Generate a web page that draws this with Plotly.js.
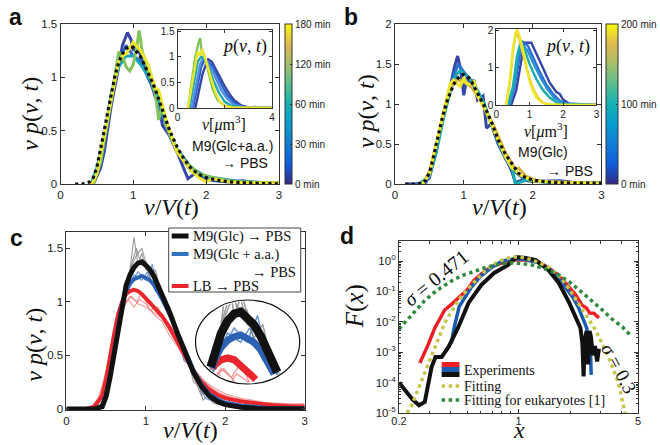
<!DOCTYPE html>
<html><head><meta charset="utf-8">
<script src="https://cdn.plot.ly/plotly-3.0.1.min.js"></script>
<style>html,body{margin:0;padding:0;background:#fff}#chart{width:660px;height:445px}</style>
</head><body><div id="chart"></div>
<script>
// ---------- Panel a : M9(Glc+a.a.) -> PBS, v p(v,t) vs v/V(t) ----------
const aFitX = [0.2,0.3,0.4,0.45,0.5,0.55,0.6,0.65,0.7,0.75,0.8,0.85,0.9,0.95,1.0,1.05,1.1,1.15,1.2,1.25,1.3,1.4,1.5,1.6,1.7,1.8,1.9,2.0,2.2,2.4,2.6,2.8,3.0];
const aFitY = [0,0,0.02,0.06,0.16,0.32,0.5,0.68,0.86,1.02,1.14,1.22,1.27,1.29,1.28,1.24,1.19,1.12,1.05,0.97,0.89,0.7,0.5,0.35,0.23,0.14,0.09,0.06,0.03,0.015,0.008,0.004,0.002];
const aT0X = [0.45,0.55,0.6,0.7,0.8,0.85,0.92,0.97,1.0,1.05,1.1,1.2,1.3,1.35,1.4,1.5,1.6,1.75,1.85,2.0,2.3,2.5,2.7,3.0];
const aT0Y = [0,0.15,0.3,0.75,1.1,1.3,1.42,1.35,1.25,1.3,1.2,1.05,0.82,0.75,0.55,0.45,0.3,0.05,0.1,0.04,0.02,0.03,0.01,0.01];
const aT30X = [0.45,0.55,0.7,0.8,0.9,0.95,1.0,1.1,1.2,1.3,1.4,1.5,1.6,1.8,2.0,2.5,3.0];
const aT30Y = [0,0.2,0.78,1.15,1.3,1.25,1.2,1.15,1.0,0.85,0.65,0.45,0.3,0.12,0.05,0.02,0.01];
const aT60X = [0.42,0.5,0.6,0.7,0.8,0.9,1.0,1.1,1.2,1.3,1.4,1.5,1.6,1.8,2.0,2.5,3.0];
const aT60Y = [0,0.15,0.45,0.85,1.1,1.2,1.2,1.12,1.02,0.9,0.68,0.48,0.33,0.15,0.07,0.02,0.01];
const aT120X = [0.45,0.55,0.65,0.75,0.8,0.85,0.9,0.95,1.0,1.05,1.08,1.12,1.2,1.3,1.35,1.4,1.45,1.55,1.7,1.9,2.1,2.4,3.0];
const aT120Y = [0,0.2,0.6,1.0,1.24,1.2,1.1,1.06,1.12,1.3,1.44,1.25,1.08,0.85,0.6,0.75,0.55,0.38,0.22,0.1,0.06,0.02,0.01];
const aT180X = [0.4,0.45,0.5,0.6,0.7,0.8,0.85,0.9,1.0,1.1,1.2,1.3,1.35,1.45,1.6,1.8,1.9,2.0,2.1,2.3,2.6,3.0];
const aT180Y = [0,0.02,0.1,0.45,0.8,1.15,1.2,1.22,1.33,1.25,1.13,0.9,0.88,0.6,0.3,0.12,0.06,0.02,0.05,0.02,0.01,0.01];
// inset a : p(v,t) vs v [um^3]
const aiT0X = [0.75,0.9,1.05,1.2,1.3,1.45,1.6,1.8,2.0,2.2,2.4,2.7,3.0,3.3,3.6,4.0];
const aiT0Y = [0,0.3,0.65,0.85,0.95,0.9,0.78,0.6,0.42,0.27,0.15,0.05,0.01,0.02,0,0];
const aiT30X = [0.65,0.85,1.0,1.15,1.3,1.5,1.7,1.9,2.1,2.4,2.7,3.0,4.0];
const aiT30Y = [0,0.45,0.8,0.95,0.9,0.8,0.6,0.42,0.25,0.1,0.03,0.01,0];
const aiT45X = [0.6,0.8,0.95,1.1,1.25,1.45,1.65,1.85,2.1,2.4,2.8,4.0];
const aiT45Y = [0,0.5,0.85,0.98,0.9,0.75,0.55,0.35,0.18,0.06,0.01,0];
const aiT60X = [0.5,0.7,0.85,1.0,1.15,1.35,1.55,1.75,2.0,2.3,2.7,4.0];
const aiT60Y = [0,0.55,0.9,1.0,0.95,0.75,0.5,0.3,0.12,0.04,0.01,0];
const aiT120X = [0.44,0.6,0.75,0.9,0.96,1.02,1.1,1.2,1.35,1.5,1.7,2.0,2.4,4.0];
const aiT120Y = [0,0.55,1.0,1.3,1.36,1.1,1.05,0.9,0.6,0.35,0.15,0.04,0.01,0];
const aiT180X = [0.44,0.6,0.75,0.85,0.95,1.05,1.15,1.3,1.45,1.6,1.8,2.0,2.3,4.0];
const aiT180Y = [0,0.45,0.9,1.1,1.02,1.15,1.0,0.75,0.5,0.3,0.12,0.04,0.01,0];
const aColorbarTicks = ['0 min','30 min','60 min','120 min','180 min'];

// ---------- Panel b : M9(Glc) -> PBS ----------
const bFitX = [0.15,0.3,0.4,0.45,0.5,0.55,0.6,0.65,0.7,0.75,0.8,0.85,0.9,0.95,1.0,1.05,1.1,1.15,1.2,1.25,1.3,1.4,1.5,1.6,1.7,1.8,1.9,2.0,2.2,2.4,2.6,2.8,3.0];
const bFitY = [0,0,0.01,0.05,0.14,0.3,0.5,0.7,0.87,1.02,1.14,1.24,1.31,1.35,1.37,1.35,1.3,1.22,1.14,1.06,0.97,0.78,0.55,0.38,0.25,0.13,0.08,0.05,0.025,0.015,0.01,0.01,0.01];
const bT0X = [0.15,0.4,0.5,0.6,0.7,0.8,0.86,0.91,0.95,1.0,1.05,1.1,1.15,1.2,1.28,1.33,1.4,1.5,1.6,1.7,1.75,1.85,2.0,2.4,2.6,3.0];
const bT0Y = [0,0,0.08,0.4,0.85,1.2,1.45,1.6,1.45,1.11,1.35,1.25,1.3,1.05,1.1,0.7,0.75,0.5,0.35,0.15,0.02,0.05,0.03,0.04,0.02,0.02];
const bT50X = [0.3,0.45,0.55,0.65,0.75,0.85,0.92,1.0,1.1,1.2,1.3,1.4,1.5,1.6,1.7,1.85,2.0,2.5,3.0];
const bT50Y = [0,0.02,0.25,0.65,1.0,1.35,1.5,1.4,1.3,1.15,0.95,0.75,0.5,0.32,0.18,0.08,0.04,0.02,0.02];
const bT100X = [0.35,0.5,0.6,0.7,0.8,0.9,0.95,1.05,1.15,1.3,1.4,1.5,1.6,1.7,1.75,1.9,2.2,3.0];
const bT100Y = [0,0.1,0.4,0.8,1.15,1.38,1.42,1.35,1.25,1.0,0.75,0.55,0.35,0.2,0.0,0.05,0.02,0.01];
const bT180X = [0.4,0.5,0.6,0.7,0.8,0.9,1.0,1.1,1.2,1.3,1.45,1.6,1.75,1.8,1.9,2.1,3.0];
const bT180Y = [0,0.15,0.5,0.85,1.2,1.3,1.28,1.22,1.1,0.95,0.7,0.4,0.18,0.2,0.1,0.03,0.01];
const bT200X = [0.4,0.5,0.6,0.7,0.8,0.85,0.9,0.95,1.0,1.05,1.1,1.15,1.2,1.3,1.4,1.5,1.6,1.7,1.75,1.8,1.9,2.0,2.4,3.0];
const bT200Y = [0,0.12,0.5,0.88,1.25,1.3,1.25,1.22,1.33,1.25,1.25,1.28,1.1,0.95,0.75,0.55,0.35,0.2,0.18,0.12,0.08,0.04,0.02,0.01];
// inset b
const biT0X = [0.45,0.6,0.75,0.85,1.05,1.2,1.4,1.6,1.8,1.9,2.0,2.2,2.5,3.0];
const biT0Y = [0,0.4,1.2,1.68,1.68,1.4,1.0,0.6,0.35,0.3,0.15,0.03,0,0];
const biT50X = [0.4,0.55,0.7,0.8,0.95,1.1,1.3,1.5,1.7,1.9,2.1,3.0];
const biT50Y = [0,0.5,1.3,1.7,1.6,1.3,0.9,0.55,0.3,0.12,0.03,0];
const biT75X = [0.4,0.55,0.68,0.8,0.95,1.15,1.35,1.55,1.75,2.0,3.0];
const biT75Y = [0,0.6,1.4,1.62,1.45,1.05,0.7,0.4,0.18,0.05,0];
const biT100X = [0.35,0.5,0.62,0.72,0.85,1.0,1.2,1.4,1.6,1.8,2.0,3.0];
const biT100Y = [0,0.5,1.3,1.68,1.5,1.1,0.7,0.4,0.2,0.07,0.02,0];
const biT180X = [0.3,0.42,0.52,0.6,0.68,0.8,0.95,1.1,1.25,1.4,1.6,3.0];
const biT180Y = [0,0.7,1.6,1.95,1.8,1.4,0.85,0.45,0.2,0.06,0.01,0];
const biT200X = [0.3,0.4,0.5,0.58,0.63,0.7,0.8,0.9,1.0,1.1,1.2,1.35,1.5,2.0,3.0];
const biT200Y = [0,0.6,1.5,1.95,2.03,1.85,1.5,1.05,0.65,0.38,0.2,0.08,0.02,0,0];
const bColorbarTicks = ['0 min','100 min','200 min'];

// ---------- Panel c : averages (thick) and individual curves (thin) ----------
const cGlcX = [0,0.35,0.45,0.5,0.55,0.6,0.65,0.7,0.75,0.8,0.85,0.9,0.95,1.0,1.05,1.1,1.15,1.2,1.25,1.3,1.4,1.5,1.6,1.7,1.8,1.9,2.0,2.2,2.4,3.0];
const cGlcY = [0,0,0.02,0.12,0.3,0.52,0.78,1.0,1.15,1.25,1.32,1.36,1.37,1.34,1.3,1.24,1.16,1.08,1.0,0.9,0.7,0.51,0.34,0.21,0.12,0.07,0.04,0.015,0.005,0];
const cAaX = [0,0.35,0.45,0.5,0.55,0.6,0.65,0.7,0.75,0.8,0.85,0.9,0.95,1.0,1.05,1.1,1.15,1.2,1.3,1.4,1.5,1.6,1.7,1.8,1.9,2.0,2.2,2.5,3.0];
const cAaY = [0,0,0.03,0.14,0.32,0.55,0.8,0.98,1.1,1.17,1.21,1.23,1.24,1.22,1.2,1.16,1.1,1.03,0.88,0.7,0.52,0.36,0.23,0.14,0.09,0.06,0.03,0.01,0.005];
const cLbX = [0,0.25,0.35,0.45,0.5,0.55,0.6,0.65,0.7,0.75,0.8,0.85,0.9,0.95,1.0,1.05,1.1,1.2,1.3,1.4,1.5,1.6,1.7,1.8,1.9,2.0,2.2,2.4,2.6,2.8,3.0];
const cLbY = [0,0,0.02,0.12,0.28,0.5,0.7,0.88,1.0,1.07,1.1,1.11,1.1,1.07,1.03,1.0,0.96,0.87,0.76,0.62,0.48,0.35,0.25,0.18,0.13,0.1,0.07,0.05,0.035,0.025,0.02];
const cGray1X = [0.4,0.5,0.6,0.7,0.8,0.85,0.9,0.95,1.0,1.1,1.2,1.3,1.4,1.5,1.6,1.7,1.75,1.8,1.9,2.1,3.0];
const cGray1Y = [0,0.15,0.5,1.0,1.3,1.6,1.35,1.45,1.3,1.25,1.1,0.85,0.72,0.5,0.3,0.12,0.25,0.1,0.05,0.02,0];
const cGray2X = [0.42,0.55,0.65,0.75,0.82,0.88,0.92,1.0,1.05,1.12,1.2,1.3,1.38,1.45,1.55,1.65,1.72,1.8,2.0,3.0];
const cGray2Y = [0,0.3,0.75,1.15,1.35,1.5,1.4,1.38,1.22,1.3,1.05,0.95,0.7,0.62,0.38,0.28,0.08,0.15,0.03,0];
const cGray3X = [0.45,0.55,0.65,0.78,0.87,0.95,1.02,1.1,1.18,1.25,1.35,1.42,1.5,1.6,1.7,1.85,2.2,3.0];
const cGray3Y = [0,0.28,0.82,1.25,1.42,1.5,1.3,1.2,1.15,0.95,0.85,0.6,0.55,0.25,0.2,0.05,0.01,0];
const cBlue1X = [0.4,0.5,0.6,0.7,0.8,0.9,1.0,1.08,1.15,1.25,1.35,1.45,1.55,1.65,1.75,1.85,2.0,2.4,3.0];
const cBlue1Y = [0,0.15,0.55,0.95,1.15,1.28,1.2,1.35,1.12,1.02,0.8,0.6,0.4,0.25,0.1,0.07,0.05,0.02,0.01];
const cBlue2X = [0.42,0.55,0.65,0.75,0.85,0.95,1.02,1.12,1.22,1.3,1.4,1.48,1.6,1.7,1.8,2.0,3.0];
const cBlue2Y = [0,0.28,0.78,1.08,1.25,1.2,1.28,1.1,1.05,0.85,0.72,0.45,0.38,0.15,0.12,0.05,0.01];
const cPink1X = [0.3,0.4,0.5,0.6,0.7,0.8,0.88,0.95,1.05,1.15,1.25,1.35,1.45,1.55,1.65,1.8,2.0,2.3,2.6,3.0];
const cPink1Y = [0,0.08,0.35,0.72,0.95,1.05,1.0,1.08,0.92,0.95,0.8,0.7,0.52,0.42,0.3,0.2,0.12,0.07,0.05,0.03];
const cPink2X = [0.3,0.42,0.52,0.62,0.72,0.82,0.9,1.0,1.1,1.2,1.3,1.4,1.5,1.6,1.75,1.9,2.1,2.4,2.8,3.0];
const cPink2Y = [0,0.12,0.42,0.78,0.98,1.05,0.98,0.95,0.9,0.85,0.72,0.6,0.5,0.38,0.25,0.15,0.1,0.06,0.04,0.05];
const cPink3X = [0.3,0.4,0.5,0.6,0.7,0.78,0.85,0.92,1.0,1.1,1.2,1.3,1.4,1.5,1.6,1.7,1.85,2.0,2.2,2.5,3.0];
const cPink3Y = [0,0.1,0.32,0.68,0.92,1.02,0.95,1.02,0.98,0.88,0.82,0.68,0.58,0.45,0.36,0.28,0.2,0.14,0.1,0.06,0.04];
const cLegend = ['M9(Glc) → PBS','M9(Glc + a.a.)','→ PBS','LB → PBS'];

// ---------- Panel d : scaling function F(x), log-log ----------
const dLbX = [0.265,0.296,0.324,0.37,0.41,0.445,0.5,0.55,0.62,0.69,0.76,0.84,0.95,1.1,1.31,1.5,1.7,1.88,2.05,2.16,2.35,2.5,2.6,2.75,2.95];
const dLbY = [4.4e-4,1.74e-3,6.3e-3,0.0245,0.0398,0.0603,0.112,0.234,0.417,0.631,0.794,0.933,1.08,1.08,0.933,0.589,0.355,0.191,0.112,0.0759,0.0355,0.0282,0.0195,0.0191,0.0135];
const dAaX = [0.405,0.42,0.45,0.49,0.53,0.6,0.7,0.8,0.95,1.1,1.3,1.5,1.7,1.9,2.07,2.25,2.37,2.5,2.56,2.63,2.66];
const dAaY = [0.002,0.0063,0.0316,0.0708,0.138,0.316,0.631,1.0,1.2,1.12,0.89,0.56,0.28,0.126,0.066,0.028,0.0145,0.0063,0.0032,0.0012,1.8e-4];
const dGlcX = [0.2,0.22,0.24,0.262,0.283,0.31,0.327,0.355,0.39,0.445,0.51,0.605,0.72,0.87,0.97,1.1,1.26,1.5,1.72,1.98,2.16,2.3,2.36,2.4,2.44,2.5,2.55,2.6,2.65,2.72,2.8,2.88,2.95];
const dGlcY = [1e-4,5e-5,2.8e-5,1.8e-5,2.3e-5,3.2e-4,6.9e-4,6.9e-4,1.5e-3,6.8e-3,0.042,0.162,0.407,0.741,1.35,1.26,1.07,0.5,0.19,0.042,0.0145,0.0063,0.002,1.6e-4,0.0025,0.005,4e-4,0.005,0.0032,7.9e-4,0.0016,5e-4,0.0013];
const dFitX = [0.223,0.238,0.26,0.283,0.323,0.37,0.41,0.445,0.53,0.63,0.72,0.82,0.92,1.0,1.1,1.25,1.5,1.75,1.96,2.15,2.37,2.82,3.36,3.83,4.1,4.25];
const dFitY = [1.0e-5,1.82e-5,6.3e-5,2.09e-4,1.48e-3,9.1e-3,0.024,0.0525,0.162,0.437,0.794,1.148,1.349,1.349,1.259,1.0,0.631,0.302,0.129,0.0603,0.0245,0.00537,6.9e-4,1.0e-4,1.58e-5,7e-6];
const dEukX = [0.2,0.25,0.283,0.33,0.37,0.42,0.483,0.55,0.63,0.72,0.824,0.92,1.0,1.1,1.2,1.4,1.65,2.0,2.37,2.7,3.09,3.5,4.04,4.5];
const dEukY = [0.0058,0.022,0.05,0.105,0.162,0.25,0.355,0.468,0.589,0.724,0.832,0.871,0.851,0.794,0.741,0.575,0.407,0.2,0.089,0.048,0.0245,0.0126,0.0068,0.0037];
const dLegend = ['Experiments','Fitting','Fitting for eukaryotes [1]'];
const dYTicks = [1e-5,1e-4,1e-3,1e-2,1e-1,1];
const dYTickText = ['10<sup>-5</sup>','10<sup>-4</sup>','10<sup>-3</sup>','10<sup>-2</sup>','10<sup>-1</sup>','10<sup>0</sup>'];

// ---------- helpers ----------
const W = 660, H = 445;
const SANS = 'Liberation Sans, Arial, Helvetica, sans-serif';
const SERIF = 'Liberation Serif, Times New Roman, serif';
const P = x => x / W, Q = y => 1 - y / H;
const parula = [[0,'#352a87'],[0.125,'#0f5cdd'],[0.25,'#127dd8'],[0.375,'#079ccf'],[0.5,'#15b1b4'],[0.625,'#59bd8c'],[0.75,'#a5be6b'],[0.875,'#e1b952'],[1,'#f9fb0e']];

function ln(x, y, xa, ya, color, width, dash, opacity) {
  return {type:'scatter', mode:'lines', x, y, xaxis:xa, yaxis:ya, hoverinfo:'skip',
    line:{color, width, dash: dash || 'solid'}, opacity: opacity == null ? 1 : opacity};
}
function clipEllipse(xs, ys, cx, cy, rx, ry) {
  const ox = [], oy = [];
  let last = null;
  for (let i = 0; i < xs.length - 1; i++) {
    const x0 = xs[i], y0 = ys[i], x1 = xs[i+1], y1 = ys[i+1];
    const dx = (x1-x0)/rx, dy = (y1-y0)/ry, ex = (x0-cx)/rx, ey = (y0-cy)/ry;
    const A = dx*dx + dy*dy, B = 2*(ex*dx + ey*dy), C = ex*ex + ey*ey - 1;
    if (A === 0) continue;
    const D = B*B - 4*A*C;
    if (D <= 0) { last = null; continue; }
    const s = Math.sqrt(D);
    const t0 = Math.max(0, (-B - s)/(2*A)), t1 = Math.min(1, (-B + s)/(2*A));
    if (t0 >= t1) { last = null; continue; }
    const ax = x0 + t0*(x1-x0), ay = y0 + t0*(y1-y0), bx = x0 + t1*(x1-x0), by = y0 + t1*(y1-y0);
    if (!(last && Math.abs(last[0]-ax) < 1e-9 && Math.abs(last[1]-ay) < 1e-9)) {
      if (ox.length) { ox.push(null); oy.push(null); }
      ox.push(ax); oy.push(ay);
    }
    ox.push(bx); oy.push(by);
    last = (t1 >= 1) ? [bx, by] : null;
  }
  return [ox, oy];
}
function axis(px0, px1, range, extra) {
  return Object.assign({domain:[px0, px1], range, showgrid:false, zeroline:false, showline:true,
    linecolor:'#333', linewidth:1, mirror:'ticks', ticks:'inside', ticklen:4, tickcolor:'#333',
    tickfont:{family:SANS, size:11.5, color:'#222'}, fixedrange:true}, extra || {});
}

const traces = [];
// panel a
[[aT0X,aT0Y,'#3646a6'],[aT30X,aT30Y,'#2c67cc'],[aT60X,aT60Y,'#1ba3b8'],[aT120X,aT120Y,'#82c45a'],[aT180X,aT180Y,'#ede62a']]
  .forEach(c => traces.push(ln(c[0], c[1], 'x', 'y', c[2], 3)));
traces.push(ln(aFitX, aFitY, 'x', 'y', '#111', 3.2, 'dot'));
[[aiT0X,aiT0Y,'#3646a6'],[aiT30X,aiT30Y,'#2f5fc4'],[aiT45X,aiT45Y,'#4f8ee0'],[aiT60X,aiT60Y,'#1ba3b8'],[aiT120X,aiT120Y,'#82c45a'],[aiT180X,aiT180Y,'#ede62a']]
  .forEach(c => traces.push(ln(c[0], c[1], 'x2', 'y2', c[2], 2.4)));
// panel b
[[bT0X,bT0Y,'#3646a6'],[bT50X,bT50Y,'#2c6fd2'],[bT100X,bT100Y,'#18acb0'],[bT180X,bT180Y,'#d9b445'],[bT200X,bT200Y,'#ede62a']]
  .forEach(c => traces.push(ln(c[0], c[1], 'x3', 'y3', c[2], 3)));
traces.push(ln(bFitX, bFitY, 'x3', 'y3', '#111', 3.2, 'dot'));
[[biT0X,biT0Y,'#3646a6'],[biT50X,biT50Y,'#2c6fd2'],[biT75X,biT75Y,'#2b8fd8'],[biT100X,biT100Y,'#18acb0'],[biT180X,biT180Y,'#e2cc3a'],[biT200X,biT200Y,'#ede62a']]
  .forEach(c => traces.push(ln(c[0], c[1], 'x4', 'y4', c[2], 2.4)));
// panel c
const cThin = [[cPink1X,cPink1Y,'#f08a8a'],[cPink2X,cPink2Y,'#f08a8a'],[cPink3X,cPink3Y,'#f08a8a'],
  [cBlue1X,cBlue1Y,'#4a80cc'],[cBlue2X,cBlue2Y,'#4a80cc'],[cGray1X,cGray1Y,'#8a8a8a'],[cGray2X,cGray2Y,'#8a8a8a'],[cGray3X,cGray3Y,'#8a8a8a']];
cThin.forEach(c => traces.push(ln(c[0], c[1], 'x5', 'y5', c[2], 1.1, 'solid', 0.85)));
const cThick = [[cLbX,cLbY,'#e8262b',4],[cAaX,cAaY,'#2c62b4',4],[cGlcX,cGlcY,'#111111',5]];
cThick.forEach(c => traces.push(ln(c[0], c[1], 'x5', 'y5', c[2], c[3])));
// magnified circular inset of panel c
const ciX = [0.603, 1.404], ciY = [0.963, 1.438];
const ecx = (ciX[0]+ciX[1])/2, ecy = (ciY[0]+ciY[1])/2, erx = (ciX[1]-ciX[0])/2*0.975, ery = (ciY[1]-ciY[0])/2*0.965;
cThin.forEach(c => { const k = clipEllipse(c[0], c[1], ecx, ecy, erx, ery); traces.push(ln(k[0], k[1], 'x6', 'y6', c[2], 1.5, 'solid', 0.85)); });
[[cLbX,cLbY,'#e8262b',7],[cAaX,cAaY,'#2c62b4',7],[cGlcX,cGlcY,'#111111',8.5]]
  .forEach(c => { const k = clipEllipse(c[0], c[1], ecx, ecy, erx*0.96, ery*0.94); traces.push(ln(k[0], k[1], 'x6', 'y6', c[2], c[3])); });
// panel d
traces.push(ln(dLbX, dLbY, 'x7', 'y7', '#ee2024', 3.5));
traces.push(ln(dAaX, dAaY, 'x7', 'y7', '#1c5cb0', 3.5));
traces.push(ln(dGlcX, dGlcY, 'x7', 'y7', '#111111', 4));
traces.push(ln(dFitX, dFitY, 'x7', 'y7', '#c6c64c', 3.5, 'dot'));
traces.push(ln(dEukX, dEukY, 'x7', 'y7', '#2e8a3c', 3.5, 'dot'));
// colorbars
traces.push({type:'scatter', mode:'markers', x:[null], y:[null], xaxis:'x', yaxis:'y', hoverinfo:'skip',
  marker:{color:[0], cmin:0, cmax:aColorbarTicks.length-1, colorscale:parula, showscale:true,
    colorbar:{x:P(287), xanchor:'left', xpad:0, y:Q(184), yanchor:'bottom', ypad:0, len:160, lenmode:'pixels',
      thickness:7, outlinewidth:1, outlinecolor:'#333', tickvals:aColorbarTicks.map((_, i) => i), ticktext:aColorbarTicks,
      ticks:'inside', ticklen:2, tickcolor:'#333', tickfont:{family:SANS, size:10, color:'#222'}}}});
traces.push({type:'scatter', mode:'markers', x:[null], y:[null], xaxis:'x3', yaxis:'y3', hoverinfo:'skip',
  marker:{color:[0], cmin:0, cmax:200, colorscale:parula, showscale:true,
    colorbar:{x:P(611), xanchor:'left', xpad:0, y:Q(184), yanchor:'bottom', ypad:0, len:160, lenmode:'pixels',
      thickness:12, outlinewidth:1, outlinecolor:'#333', tickvals:[0,100,200], ticktext:bColorbarTicks,
      ticks:'inside', ticklen:2, tickcolor:'#333', tickfont:{family:SANS, size:10, color:'#222'}}}});

const smallTick = {family:SANS, size:10, color:'#222'};
const layout = {
  width:W, height:H, margin:{l:0,r:0,t:0,b:0}, showlegend:false,
  paper_bgcolor:'#fff', plot_bgcolor:'rgba(0,0,0,0)', font:{family:SANS},
  xaxis: axis(P(61), P(281), [0,3], {anchor:'y', tickvals:[0,1,2,3]}),
  yaxis: axis(Q(184), Q(24), [0,1.5], {anchor:'x', tickvals:[0,0.5,1,1.5]}),
  xaxis2: axis(P(179), P(274), [0,4], {anchor:'y2', tickvals:[0,2,4], ticktext:['0','','4'], ticklen:3, tickfont:smallTick}),
  yaxis2: axis(Q(108), Q(30), [0,1.52], {anchor:'x2', tickvals:[0,0.5,1,1.5], ticklen:3, tickfont:smallTick}),
  xaxis3: axis(P(398), P(606), [0,3], {anchor:'y3', tickvals:[0,1,2,3]}),
  yaxis3: axis(Q(184), Q(24), [0,2], {anchor:'x3', tickvals:[0,0.5,1,1.5,2]}),
  xaxis4: axis(P(500), P(601), [0,3], {anchor:'y4', tickvals:[0,1,2,3], ticklen:3, tickfont:smallTick}),
  yaxis4: axis(Q(105), Q(29), [0,2.05], {anchor:'x4', tickvals:[0,1,2], ticklen:3, tickfont:smallTick}),
  xaxis5: axis(P(67), P(307), [0,3], {anchor:'y5', tickvals:[0,1,2,3]}),
  yaxis5: axis(Q(410), Q(232), [-0.01,1.65], {anchor:'x5', tickvals:[0,0.5,1,1.5]}),
  xaxis6: {domain:[P(197), P(302)], range:ciX, anchor:'y6', visible:false, fixedrange:true},
  yaxis6: {domain:[Q(384), Q(300)], range:ciY, anchor:'x6', visible:false, fixedrange:true},
  xaxis7: axis(P(402), P(643), [Math.log10(0.2), Math.log10(5)], {anchor:'y7', type:'log', tickvals:[0.2,1,5], ticktext:['0.2','1','5'],
    ticklabelstandoff:-2, tickfont:{family:SANS, size:11, color:'#222'},
    minor:{ticks:'inside', ticklen:2.5, tickcolor:'#333', tickvals:[0.3,0.4,0.5,0.6,0.7,0.8,0.9,2,3,4]}}),
  yaxis7: axis(Q(413), Q(241), [-5, 0.66], {anchor:'x7', type:'log', tickvals:dYTicks, ticktext:dYTickText,
    minor:{ticks:'inside', ticklen:2, tickcolor:'#333', dtick:'D1'}}),
  shapes: [], annotations: []
};

function ann(text, x, y, size, family, extra) {
  layout.annotations.push(Object.assign({text, x:P(x), y:Q(y), xref:'paper', yref:'paper', showarrow:false,
    font:{family, size, color:'#111'}, xanchor:'center', yanchor:'middle'}, extra || {}));
}
// panel letters
ann('<b>a</b>', 16, 17, 23, SANS); ann('<b>b</b>', 354, 17, 23, SANS);
ann('<b>c</b>', 17, 238, 23, SANS); ann('<b>d</b>', 350, 236, 23, SANS);
// axis titles
const vp = '<i>v p</i>(<i>v</i>, <i>t</i>)', vV = '<i>v</i>/<i>V</i>(<i>t</i>)';
ann(vp, 30, 114, 24, SERIF, {textangle:-90}); ann(vV, 173, 207, 24, SERIF);
ann(vp, 369, 111, 24, SERIF, {textangle:-90}); ann(vV, 503, 207, 24, SERIF);
ann(vp, 34, 345, 24, SERIF, {textangle:-90}); ann(vV, 192, 430, 24, SERIF);
ann('<i>F</i>(<i>x</i>)', 358, 306, 25, SERIF, {textangle:-90});
ann('<i>x</i>', 523, 445, 24, SERIF, {yanchor:'bottom'});
// inset labels
ann('<i>p</i>(<i>v</i>, <i>t</i>)', 246, 47, 18, SERIF); ann('<i>v</i>[<i>μ</i>m<sup>3</sup>]', 226, 124, 16, SERIF);
ann('<i>p</i>(<i>v</i>, <i>t</i>)', 572, 47, 18, SERIF); ann('<i>v</i>[<i>μ</i>m<sup>3</sup>]', 550, 131, 16, SERIF);
ann('M9(Glc+a.a.)', 277, 146, 14, SANS, {xanchor:'right'}); ann('→ PBS', 272, 163, 14, SANS, {xanchor:'right'});
ann('M9(Glc)', 547, 152, 14, SANS); ann('→ PBS', 600, 171, 14, SANS, {xanchor:'right'});
// sigma labels in d
ann('<i>σ</i> = 0.471', 439, 278, 20, SERIF, {textangle:-39});
ann('<i>σ</i> = 0.3', 624, 368, 19, SERIF, {textangle:62});

// panel c: circle and legend
layout.shapes.push({type:'circle', xref:'paper', yref:'paper', x0:P(197), x1:P(302), y0:Q(384), y1:Q(300), line:{color:'#111', width:1.2}});
layout.shapes.push({type:'rect', xref:'paper', yref:'paper', x0:P(170), x1:P(303), y0:Q(292), y1:Q(228), line:{color:'#444', width:1}, fillcolor:'#fff', layer:'above'});
[[236,'#111',5],[254,'#2f74c0',4],[286,'#e8262b',4]].forEach(s => layout.shapes.push({type:'line', xref:'paper', yref:'paper',
  x0:P(173), x1:P(190), y0:Q(s[0]), y1:Q(s[0]), line:{color:s[1], width:s[2]}}));
ann(cLegend[0], 192, 236, 14.5, SERIF, {xanchor:'left'});
ann(cLegend[1], 192, 254, 14.5, SERIF, {xanchor:'left'});
ann(cLegend[2], 300, 272, 14.5, SERIF, {xanchor:'right'});
ann(cLegend[3], 192, 286, 14.5, SERIF, {xanchor:'left'});
// panel d legend
[[362,367,'#ee2024'],[367,372,'#1c5cb0'],[372,377,'#111']].forEach(s => layout.shapes.push({type:'rect', xref:'paper', yref:'paper',
  x0:P(445), x1:P(463), y0:Q(s[1]), y1:Q(s[0]), line:{width:0}, fillcolor:s[2]}));
[[386,'#c6c64c'],[400,'#2e8a3c']].forEach(s => layout.shapes.push({type:'line', xref:'paper', yref:'paper',
  x0:P(445), x1:P(464), y0:Q(s[0]), y1:Q(s[0]), line:{color:s[1], width:3.5, dash:'dot'}}));
ann(dLegend[0], 466, 370, 14, SERIF, {xanchor:'left'});
ann(dLegend[1], 466, 386, 14, SERIF, {xanchor:'left'});
ann(dLegend[2], 466, 400, 14, SERIF, {xanchor:'left'});

Plotly.newPlot('chart', traces, layout, {staticPlot:true, displayModeBar:false});
</script></body></html>
